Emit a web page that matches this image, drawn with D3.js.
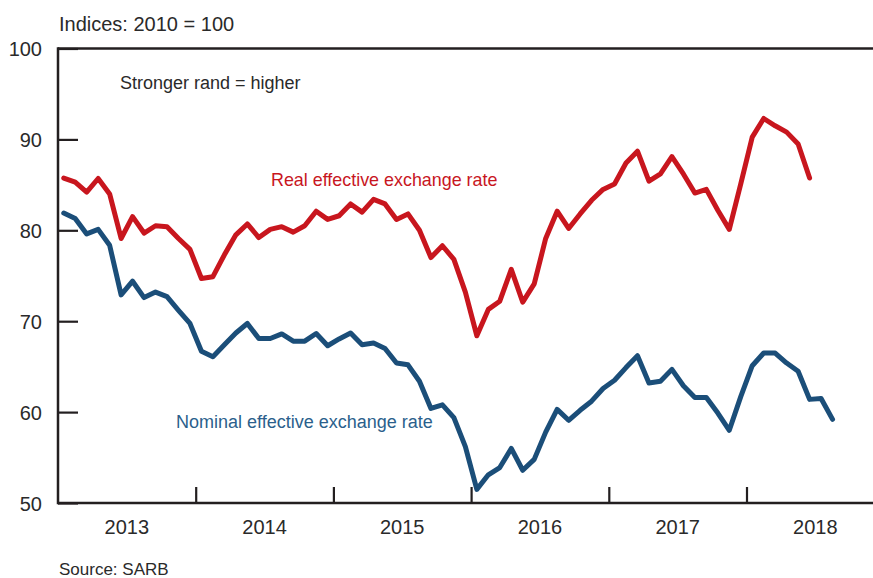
<!DOCTYPE html>
<html>
<head>
<meta charset="utf-8">
<script src="https://cdn.jsdelivr.net/npm/d3@7"></script>
<style>
  html, body { margin: 0; padding: 0; background: #fff; }
  svg { display: block; font-family: "Liberation Sans", Arial, sans-serif; }
</style>
</head>
<body>
<svg id="chart" width="873" height="578"></svg>
<script>
// Monthly index values from January 2013 (2010 = 100)
const yearLabels = ["2013", "2014", "2015", "2016", "2017", "2018"];
const yTicks = [50, 60, 70, 80, 90, 100];

const realRate = [
  85.75, 85.3, 84.2, 85.7, 84.0, 79.1, 81.5, 79.7, 80.5, 80.4, 79.1, 77.9,
  74.7, 74.9, 77.3, 79.5, 80.7, 79.2, 80.1, 80.4, 79.8, 80.5, 82.1, 81.2,
  81.6, 82.9, 82.0, 83.4, 82.9, 81.2, 81.8, 80.0, 77.0, 78.3, 76.8, 73.2,
  68.4, 71.3, 72.2, 75.7, 72.1, 74.1, 79.1, 82.1, 80.2, 81.8, 83.3, 84.5,
  85.1, 87.4, 88.7, 85.4, 86.2, 88.1, 86.2, 84.1, 84.5, 82.2, 80.1, 85.1,
  90.25, 92.3, 91.5, 90.8, 89.5, 85.75
];

const nominalRate = [
  81.9, 81.3, 79.6, 80.1, 78.35, 72.9, 74.4, 72.6, 73.2, 72.7, 71.2, 69.75,
  66.7, 66.1, 67.4, 68.7, 69.75, 68.1, 68.1, 68.6, 67.8, 67.8, 68.65, 67.3,
  68.05, 68.7, 67.4, 67.6, 67.0, 65.4, 65.2, 63.4, 60.4, 60.8, 59.4, 56.2,
  51.5, 53.1, 53.9, 56.0, 53.6, 54.8, 57.8, 60.3, 59.1, 60.2, 61.2, 62.6,
  63.5, 64.9, 66.2, 63.2, 63.4, 64.7, 62.9, 61.6, 61.6, 59.9, 58.0, 61.7,
  65.1, 66.5, 66.5, 65.4, 64.5, 61.4, 61.5, 59.2
];

const svg = d3.select("#chart");
const W = 873;
const plotLeft = 58, plotTop = 48.5, plotBottom = 503;

// x: month index (0 = Jan 2013), each point at the middle of its month
const x = d3.scaleLinear().domain([0, 72]).range([plotLeft, plotLeft + 72 * 11.475]);
const y = d3.scaleLinear().domain([50, 100]).range([plotBottom, plotTop]);

const ink = "#231f20";
const textInk = "#2a2a2a";
const red = "#c8161e";
const blue = "#1b4e79";

// Frame: left axis, top rule, bottom axis
svg.append("line").attr("x1", plotLeft).attr("x2", W).attr("y1", plotTop).attr("y2", plotTop)
  .attr("stroke", ink).attr("stroke-width", 2.5);
svg.append("line").attr("x1", plotLeft).attr("x2", W).attr("y1", plotBottom).attr("y2", plotBottom)
  .attr("stroke", ink).attr("stroke-width", 2.5);
svg.append("line").attr("x1", plotLeft).attr("x2", plotLeft).attr("y1", plotTop - 1.2).attr("y2", plotBottom + 1.2)
  .attr("stroke", ink).attr("stroke-width", 2.5);

// Y axis ticks (drawn inward) and labels
const yAxis = d3.axisRight(y).tickValues(yTicks).tickSize(20).tickFormat("");
const yg = svg.append("g").attr("transform", `translate(${plotLeft},0)`).call(yAxis);
yg.select(".domain").remove();
yg.selectAll(".tick line").attr("stroke", ink).attr("stroke-width", 2.2);

svg.append("g").selectAll("text").data(yTicks).join("text")
  .attr("x", 42).attr("y", d => y(d) + 7.5)
  .attr("text-anchor", "end")
  .attr("font-size", 20).attr("fill", textInk)
  .text(d => d);

// X axis: year boundary ticks pointing up, year labels centred on each year
const yearBounds = d3.range(1, yearLabels.length).map(i => i * 12);
const xAxis = d3.axisTop(x).tickValues(yearBounds).tickSize(16).tickFormat("");
const xg = svg.append("g").attr("transform", `translate(0,${plotBottom})`).call(xAxis);
xg.select(".domain").remove();
xg.selectAll(".tick line").attr("stroke", ink).attr("stroke-width", 2.2);

svg.append("g").selectAll("text").data(yearLabels).join("text")
  .attr("x", (d, i) => x(i * 12 + 6))
  .attr("y", 534)
  .attr("text-anchor", "middle")
  .attr("font-size", 20).attr("fill", textInk)
  .text(d => d);

// Series lines
const line = d3.line().x((d, i) => x(i + 0.5)).y(d => y(d));
svg.append("path").datum(nominalRate).attr("d", line)
  .attr("fill", "none").attr("stroke", blue).attr("stroke-width", 5)
  .attr("stroke-linejoin", "round").attr("stroke-linecap", "round");
svg.append("path").datum(realRate).attr("d", line)
  .attr("fill", "none").attr("stroke", red).attr("stroke-width", 5)
  .attr("stroke-linejoin", "round").attr("stroke-linecap", "round");

// Annotations
svg.append("text").attr("x", 59).attr("y", 31)
  .attr("font-size", 20).attr("fill", textInk).text("Indices: 2010 = 100");
svg.append("text").attr("x", 120).attr("y", 89)
  .attr("font-size", 18).attr("fill", textInk).text("Stronger rand = higher");
svg.append("text").attr("x", 271).attr("y", 186)
  .attr("font-size", 17.9).attr("fill", red).text("Real effective exchange rate");
svg.append("text").attr("x", 176).attr("y", 428)
  .attr("font-size", 18).attr("fill", "#2b5f8c").text("Nominal effective exchange rate");
svg.append("text").attr("x", 59).attr("y", 574.5)
  .attr("font-size", 17).attr("fill", textInk).text("Source: SARB");
</script>
</body>
</html>
